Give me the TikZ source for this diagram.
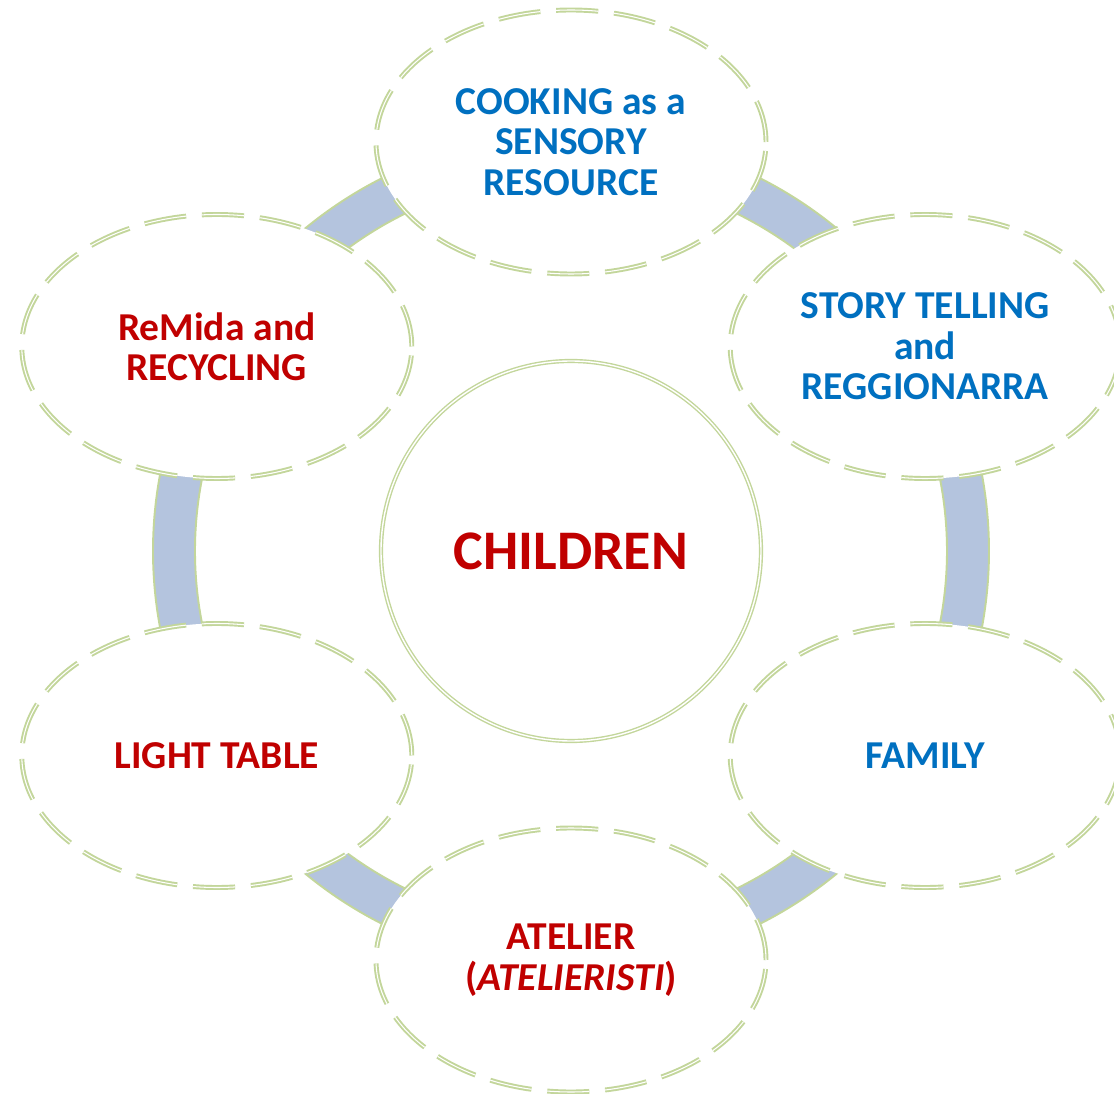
\documentclass[tikz,border=0pt]{standalone}
\usepackage{fontspec}
\setmainfont{Carlito}
\usetikzlibrary{shapes.geometric}
\definecolor{leafgreen}{RGB}{195,214,155}
\definecolor{bandblue}{RGB}{180,196,222}
\definecolor{textblue}{RGB}{0,112,192}
\definecolor{textred}{RGB}{192,0,0}

\begin{document}
\begin{tikzpicture}[
  topic/.style={ellipse, draw=leafgreen, fill=white, line width=1.1pt, double, double distance=0.6pt,
    dash pattern=on 24pt off 9pt, minimum width=7.8cm, minimum height=5.28cm, inner sep=0pt,
    align=center, font=\fontsize{22.5}{23}\selectfont\bfseries},
  hub/.style={circle, draw=leafgreen, line width=0.8pt, double, double distance=0.8pt,
    minimum size=7.6cm, inner sep=0pt, font=\fontsize{31.8}{34}\selectfont\bfseries, text=textred},
  band/.style={draw=leafgreen, fill=bandblue, line width=1.1pt}
]
\useasboundingbox (-11.42,-10.86) rectangle (10.86,11.02);

% Centre
\node[hub] (children) at (0,0) {CHILDREN};

% Bands between the topics
\foreach \a [evaluate=\a as \b using \a+5, evaluate=\a as \e using \a+55] in {30,90,...,330}
  \draw[band] ([shift={(\b:8.36)}]children.center) arc[start angle=\b, end angle=\e, radius=8.36]
    -- ([shift={(\e:7.52)}]children.center) arc[start angle=\e, end angle=\b, radius=7.52] -- cycle;

% Outer ring of topics
\node[topic, text=textblue] (cook) at (90:8.18) {COOKING as a\\SENSORY\\RESOURCE};
\node[topic, text=textblue] (story) at (30:8.18) {STORY TELLING\\and\\REGGIONARRA};
\node[topic, text=textblue] (family) at (-30:8.18) {FAMILY};
\node[topic, text=textred] (atelier) at (-90:8.18) {ATELIER\\(\textit{ATELIERISTI})};
\node[topic, text=textred] (light) at (210:8.18) {LIGHT TABLE};
\node[topic, text=textred] (remida) at (150:8.18) {ReMida and\\RECYCLING};
\end{tikzpicture}
\end{document}
